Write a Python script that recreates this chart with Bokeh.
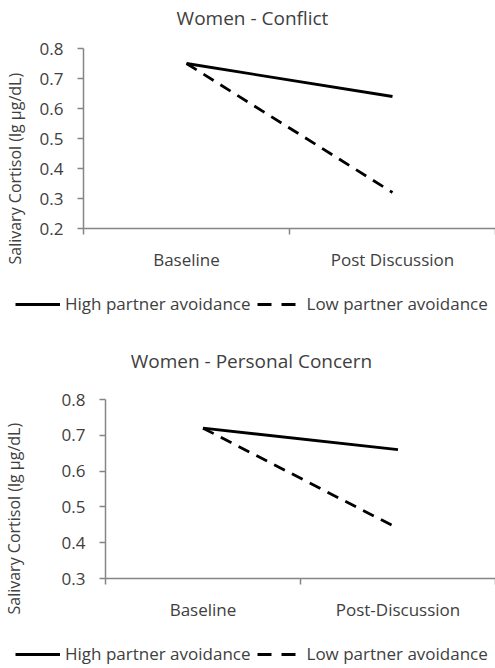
from bokeh.plotting import figure
from bokeh.models import Range1d, FixedTicker, Legend, LegendItem, Title, Label
from bokeh.embed import file_html
from bokeh.resources import INLINE

# ---- data ----
categories_top = ["Baseline", "Post Discussion"]
categories_bottom = ["Baseline", "Post-Discussion"]
high_conflict = [0.75, 0.64]
low_conflict = [0.75, 0.32]
high_personal = [0.72, 0.66]
low_personal = [0.72, 0.44]
yticks_top = [0.2, 0.3, 0.4, 0.5, 0.6, 0.7, 0.8]
yticks_bottom = [0.3, 0.4, 0.5, 0.6, 0.7, 0.8]
series_names = ["High partner avoidance", "Low partner avoidance"]
titles = ["Women - Conflict", "Women - Personal Concern"]
y_label = "Salivary Cortisol (lg µg/dL)"

FONT = "Open Sans"
TXT = "#404040"
AX = "#858585"
W = 495
DASH = "12 8"
LEG_DASH = "14 10"
LW = 2.8


def make_panel(title, cats, high, low, yticks, height, bl, bb, axis_top_px,
               title_xy, spacer, ylab_offset):
    n = len(cats)
    frame_h = height - bb
    axis_px = frame_h - axis_top_px
    y_end = yticks[0] + frame_h * (yticks[-1] - yticks[0]) / axis_px
    p = figure(width=W, height=height, x_range=Range1d(0, n),
               y_range=Range1d(yticks[0], y_end),
               output_backend="svg", toolbar_location=None, title=None,
               min_border_left=bl, min_border_right=0,
               min_border_top=0, min_border_bottom=bb)
    p.outline_line_color = None
    p.grid.visible = False

    xs = [i + 0.5 for i in range(n)]
    p.line(xs, high, line_color="black", line_width=LW)
    p.line(xs, low, line_color="black", line_width=LW, line_dash=DASH)

    # x axis
    xa = p.xaxis[0]
    xa.ticker = FixedTicker(ticks=xs, minor_ticks=list(range(0, n + 1)))
    xa.major_label_overrides = {x: c for x, c in zip(xs, cats)}
    xa.major_tick_out = 0
    xa.major_tick_in = 0
    xa.minor_tick_out = 6
    xa.minor_tick_in = 0
    xa.minor_tick_line_color = AX
    xa.minor_tick_line_width = 1.5
    xa.axis_line_color = AX
    xa.axis_line_width = 1.5
    xa.major_label_standoff = 13
    xa.major_label_text_font = FONT
    xa.major_label_text_font_size = "17px"
    xa.major_label_text_color = TXT

    # y axis
    ya = p.yaxis[0]
    ya.bounds = (yticks[0], yticks[-1])
    ya.ticker = FixedTicker(ticks=yticks, minor_ticks=[])
    ya.major_label_overrides = {t: f"{t:.1f}" for t in yticks}
    ya.major_tick_out = 6
    ya.major_tick_in = 0
    ya.major_tick_line_color = AX
    ya.major_tick_line_width = 1.5
    ya.axis_line_color = AX
    ya.axis_line_width = 1.5
    ya.major_label_standoff = 14
    ya.major_label_text_font = FONT
    ya.major_label_text_font_size = "17px"
    ya.major_label_text_color = TXT
    # invisible spacer between tick labels and the y title
    ya.axis_label = " "
    ya.axis_label_text_font_size = "1px"
    ya.axis_label_text_alpha = 0
    ya.axis_label_standoff = spacer

    # y axis title (side title so it can be shifted along the axis)
    p.add_layout(Title(text=y_label, align="left", offset=ylab_offset, standoff=0,
                       text_font=FONT, text_font_size="16px",
                       text_font_style="normal", text_color=TXT), "left")

    # chart title inside the (extended) frame
    p.add_layout(Label(x=title_xy[0], y=title_xy[1], x_units="screen", y_units="screen",
                       text=title, text_align="center", text_baseline="middle",
                       text_font=FONT, text_font_size="19px", text_color=TXT))
    return p


def make_legend(height, loc_y):
    p = figure(width=W, height=height, x_range=Range1d(0, 1), y_range=Range1d(0, 1),
               output_backend="svg", toolbar_location=None, title=None,
               x_axis_location=None, y_axis_location=None, min_border=0)
    p.outline_line_color = None
    p.grid.visible = False
    nan = float("nan")
    r_high = p.line([nan], [nan], line_color="black", line_width=LW)
    r_low = p.line([nan], [nan], line_color="black", line_width=LW, line_dash=LEG_DASH)
    legend = Legend(items=[LegendItem(label=series_names[0], renderers=[r_high]),
                           LegendItem(label=series_names[1], renderers=[r_low])],
                    orientation="horizontal", location=(15, loc_y),
                    glyph_width=45, label_standoff=5, spacing=6, padding=0, margin=0,
                    border_line_color=None, background_fill_alpha=0,
                    label_text_font=FONT, label_text_font_size="17px",
                    label_text_color=TXT)
    p.add_layout(legend, "center")
    return p


p1 = make_panel(titles[0], categories_top, high_conflict, low_conflict, yticks_top,
                280, 83, 52, 48, (169, 211), 7, -36)
l1 = make_legend(50, 15)
p2 = make_panel(titles[1], categories_bottom, high_personal, low_personal, yticks_bottom,
                300, 105, 52, 69, (146, 218), 30, -36)
l2 = make_legend(38, 3)

open("out.html", "w").write(file_html([p1, l1, p2, l2], INLINE))
